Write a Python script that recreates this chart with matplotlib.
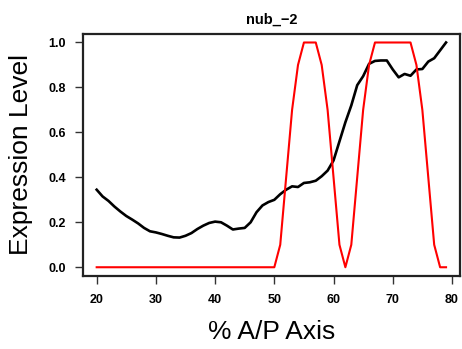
import matplotlib
matplotlib.use("Agg")
import matplotlib.pyplot as plt
import numpy as np

plt.rcParams['font.family'] = ['Liberation Sans', 'DejaVu Sans']

# A/P position (%)
ap_position = list(range(20, 80))

# Measured expression (black)
measured = [
    0.345, 0.315, 0.295, 0.270, 0.248, 0.228, 0.212, 0.195, 0.175, 0.160,
    0.155, 0.148, 0.140, 0.133, 0.132, 0.140, 0.152, 0.170, 0.185, 0.197,
    0.203, 0.200, 0.185, 0.168, 0.172, 0.175, 0.200, 0.245, 0.275, 0.290,
    0.300, 0.325, 0.345, 0.360, 0.357, 0.375, 0.378, 0.385, 0.405, 0.430,
    0.475, 0.560, 0.645, 0.720, 0.810, 0.850, 0.905, 0.918, 0.920, 0.920,
    0.880, 0.845, 0.860, 0.852, 0.880, 0.882, 0.915, 0.930, 0.965, 1.000,
]

# Predicted expression (red)
predicted = [
    0, 0, 0, 0, 0, 0, 0, 0, 0, 0,
    0, 0, 0, 0, 0, 0, 0, 0, 0, 0,
    0, 0, 0, 0, 0, 0, 0, 0, 0, 0,
    0, 0.1, 0.4, 0.7, 0.9, 1.0, 1.0, 1.0, 0.9, 0.7,
    0.4, 0.1, 0.0, 0.1, 0.4, 0.7, 0.9, 1.0, 1.0, 1.0,
    1.0, 1.0, 1.0, 1.0, 0.9, 0.7, 0.4, 0.1, 0.0, 0.0,
]

x_ticks = [20, 30, 40, 50, 60, 70, 80]
y_ticks = [0.0, 0.2, 0.4, 0.6, 0.8, 1.0]

fig = plt.figure(figsize=(4.62, 3.49), dpi=100)
ax = fig.add_axes([0.179, 0.2085, 0.8167, 0.6955])

ax.plot(ap_position, measured, color='black', lw=1.9, solid_joinstyle='round')
ax.plot(ap_position, predicted, color='#ff0000', lw=1.5, solid_joinstyle='round')

xr = 79 - 20
ax.set_xlim(20 - 0.04 * xr, 79 + 0.04 * xr)
ax.set_ylim(-0.04, 1.04)

ax.set_xticks(x_ticks)
ax.set_yticks(y_ticks)
ax.set_xticklabels([str(t) for t in x_ticks], fontweight='bold', fontsize=9)
ax.set_yticklabels([f"{t:.1f}" for t in y_ticks], fontweight='bold', fontsize=9)
ax.tick_params(axis='both', direction='out', length=6, width=1.0, color='#333333')
ax.tick_params(axis='x', pad=7)
ax.tick_params(axis='y', pad=6)

for s in ax.spines.values():
    s.set_linewidth(1.6)
    s.set_color('#222222')

ax.set_title('nub_\u22122', fontweight='bold', fontsize=10.5, pad=7)
ax.set_xlabel('% A/P Axis', fontsize=19, labelpad=10)
ax.set_ylabel('Expression Level', fontsize=19, labelpad=11)

fig.savefig('out.png', dpi=100)
